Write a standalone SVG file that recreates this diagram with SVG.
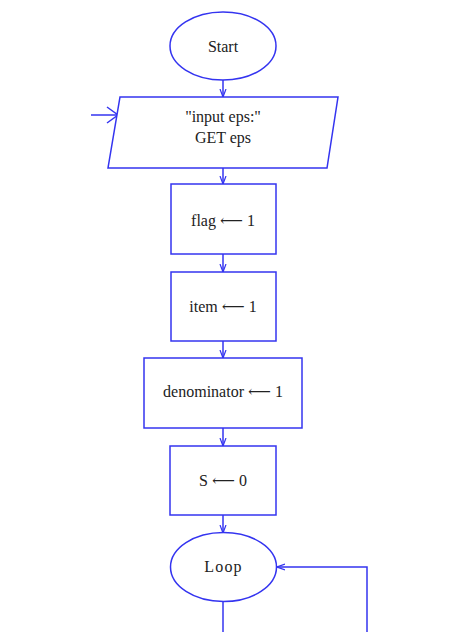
<svg xmlns="http://www.w3.org/2000/svg" width="451" height="632" viewBox="0 0 451 632">
<style>
.s{fill:#fff;stroke:#3434f0;stroke-width:1.5}
.c{fill:none;stroke:#3434f0;stroke-width:1.5}
.t{font-family:'Liberation Serif','DejaVu Serif',serif;font-size:16px;fill:#222;text-anchor:middle}
.m{font-family:'Liberation Serif','DejaVu Serif',serif;font-size:16px;letter-spacing:1.2px;fill:#222;text-anchor:middle}
</style>
<defs>
<marker id="a" viewBox="0 0 8 8" refX="8" refY="4" markerWidth="8" markerHeight="8" markerUnits="userSpaceOnUse" orient="auto">
<path d="M0,1 L8,4 L0,7" fill="none" stroke="#3434f0" stroke-width="1.2"/>
</marker>
</defs>
<rect width="451" height="632" fill="#fff"/>
<g id="connectors">
<line class="c" x1="223" y1="80" x2="223" y2="97" marker-end="url(#a)"/>
<line class="c" x1="91" y1="115" x2="118" y2="115"/>
<path class="c" d="M107,107 L118,115 L107,123"/>
<line class="c" x1="223" y1="168" x2="223" y2="184" marker-end="url(#a)"/>
<line class="c" x1="223" y1="254" x2="223" y2="272" marker-end="url(#a)"/>
<line class="c" x1="223" y1="341" x2="223" y2="358" marker-end="url(#a)"/>
<line class="c" x1="223" y1="428" x2="223" y2="446" marker-end="url(#a)"/>
<line class="c" x1="223" y1="515" x2="223" y2="533" marker-end="url(#a)"/>
<line class="c" x1="223" y1="602" x2="223" y2="632"/>
<path class="c" d="M367,632 L367,567 L277,567" marker-end="url(#a)"/>
</g>
<g id="start">
<ellipse class="s" cx="223" cy="46" rx="53" ry="34"/>
<text class="t" x="223" y="52">Start</text>
</g>
<g id="input">
<polygon class="s" points="120,97 338,97 327,168 108,168"/>
<text class="t" x="223" y="122">"input eps:"</text>
<text class="t" x="223" y="143">GET eps</text>
</g>
<g id="flag">
<rect class="s" x="171" y="184" width="105" height="70"/>
<text class="t" x="223" y="226">flag ⟵ 1</text>
</g>
<g id="item">
<rect class="s" x="171" y="272" width="105" height="69"/>
<text class="t" x="223" y="312">item ⟵ 1</text>
</g>
<g id="denominator">
<rect class="s" x="144" y="358" width="158" height="70"/>
<text class="t" x="223" y="397">denominator ⟵ 1</text>
</g>
<g id="s">
<rect class="s" x="170" y="446" width="106" height="69"/>
<text class="t" x="223" y="486">S ⟵ 0</text>
</g>
<g id="loop">
<ellipse class="s" cx="223.5" cy="567" rx="53" ry="34.5"/>
<text class="m" x="223.5" y="572">Loop</text>
</g>
</svg>
